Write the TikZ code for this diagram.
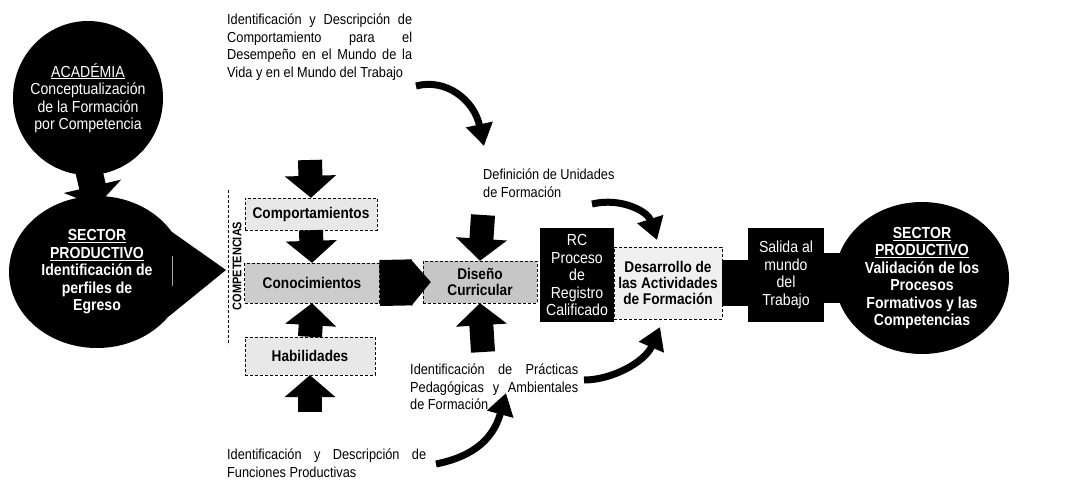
\documentclass[tikz,border=0pt]{standalone}
\usepackage{fontspec}
\setmainfont{Liberation Sans}[FakeStretch=0.88]
\usetikzlibrary{positioning, arrows.meta, shapes.geometric}

\newcommand{\txtfont}{\fontsize{14.5}{17.5}\selectfont}
\newcommand{\blobfont}{\fontsize{16}{17.5}\selectfont}
\newcommand{\boxfont}{\fontsize{15.5}{16}\selectfont\bfseries}
\newcommand{\compfont}{\fontsize{12.5}{12.5}\selectfont\bfseries}
\newcommand{\jline}[2]{\makebox[#1][s]{#2}}

\begin{document}
\begin{tikzpicture}[
		x=1pt, y=-1pt,
		blob/.style={ellipse, fill=black, text=white, align=center, inner sep=-10pt, font=\blobfont},
		graybox/.style={draw, densely dashed, align=center, inner sep=1pt, font=\boxfont},
		blackbox/.style={fill=black, text=white, align=center, inner sep=1pt, font=\blobfont},
		txt/.style={align=left, inner sep=0pt, font=\txtfont},
		blockarrow/.style={line width=24pt, -{Triangle[length=22pt, width=50pt]}},
		bendarrow/.style={line width=7pt, -{Triangle[length=22pt, width=26pt]}}
	]
	\useasboundingbox (0,0) rectangle (1074,482);

	% Nodes
	\node[blob, minimum width=150pt, minimum height=154pt] (acad) at (88,98) {\underline{ACADÉMIA}\\Conceptualización\\de la Formación\\por Competencia};
	\node[blob, font=\blobfont\bfseries, minimum width=176pt, minimum height=152pt] (sector) at (97,272) {\underline{SECTOR}\\\underline{PRODUCTIVO}\\Identificación de\\perfiles de\\Egreso};
	\coordinate (ptip) at (226,270);
	\fill (sector.28) -- (ptip) -- (sector.-32) -- cycle;
	\draw[gray!70, line width=1pt] (172,256) -- (172,286);

	\node[rotate=90, font=\compfont] (comptxt) at (237,266) {COMPETENCIAS};
	\draw[densely dashed, line width=0.8pt] (228,190) -- (228,345);

	\node[graybox, fill=gray!18, minimum width=132pt, minimum height=32pt] (comp) at (311,214) {Comportamientos};
	\node[graybox, fill=gray!40, minimum width=135pt, minimum height=40pt] (cono) at (312,283) {Conocimientos};
	\node[graybox, fill=gray!18, minimum width=130pt, minimum height=38pt] (hab) at (310,356) {Habilidades};
	\node[graybox, fill=gray!45, minimum width=114pt, minimum height=42pt] (dis) at (480,282) {Diseño\\Curricular};
	\node[blackbox, minimum width=74pt, minimum height=94pt] (rc) at (577,275) {RC\\Proceso\\de\\Registro\\Calificado};
	\node[graybox, fill=gray!12, minimum width=108pt, minimum height=72pt] (des) at (668,283) {Desarrollo de\\las Actividades\\de Formación};
	\node[blackbox, minimum width=76pt, minimum height=94pt] (sal) at (786,275) {Salida al\\mundo\\del\\Trabajo};
	\node[blob, font=\blobfont\bfseries, minimum width=174pt, minimum height=152pt] (valid) at (922,278) {\underline{SECTOR}\\\underline{PRODUCTIVO}\\Validación de los\\Procesos\\Formativos y las\\Competencias};

	\node[txt, anchor=north west] (behav) at (227,14) {\jline{185pt}{Identificación y Descripción de}\\\jline{185pt}{Comportamiento para el}\\\jline{185pt}{Desempeño en el Mundo de la}\\Vida y en el Mundo del Trabajo};
	\node[txt, anchor=north west] (units) at (483,169) {Definición de Unidades\\de Formación};
	\node[txt, anchor=north west] (pract) at (410,364) {\jline{168pt}{Identificación de Prácticas}\\\jline{168pt}{Pedagógicas y Ambientales}\\de Formación};
	\node[txt, anchor=north west] (funct) at (227,449) {\jline{199pt}{Identificación y Descripción de}\\Funciones Productivas};

	% Connections
	\draw[line width=27pt, -{Triangle[length=20pt, width=58pt]}] ([yshift=8pt]acad.south) -- ([yshift=-10pt]sector.north);

	\coordinate (compin) at (310,160);
	\coordinate (habin) at (310,412);
	\draw[blockarrow] (compin) -- (comp.north);
	\draw[blockarrow] (comp.south) -- (cono.north);
	\draw[blockarrow] (hab.north) -- (cono.south);
	\draw[blockarrow] (habin) -- (hab.south);

	\coordinate (disin) at (483,215);
	\coordinate (disbot) at (483,352);
	\draw[blockarrow] (disin) -- (dis.north);
	\draw[blockarrow] (disbot) -- (dis.south);

	\draw[line width=46pt, -{Triangle[length=20pt, width=46pt]}] (cono.east) -- ([xshift=8pt]dis.west);
	\draw[line width=46pt] (des.east) -- (des.east -| sal.west);
	\draw[line width=50pt] (valid.west -| sal.east) -- ([xshift=8pt]valid.west);

	\coordinate (b1s) at (416,86);
	\coordinate (b1e) at (484,146);
	\coordinate (b2s) at (592,204);
	\coordinate (b2e) at (657,240);
	\coordinate (b3s) at (584,380);
	\coordinate (b3e) at (660,327);
	\coordinate (b4s) at (436,464);
	\coordinate (b4e) at (506,393);
	\draw[bendarrow] (b1s) .. controls (446,78) and (474,100) .. (b1e);
	\draw[bendarrow] (b2s) .. controls (622,197) and (648,212) .. (b2e);
	\draw[bendarrow] (b3s) .. controls (612,380) and (645,362) .. (b3e);
	\draw[bendarrow] (b4s) .. controls (466,458) and (492,444) .. (b4e);

\end{tikzpicture}
\end{document}
